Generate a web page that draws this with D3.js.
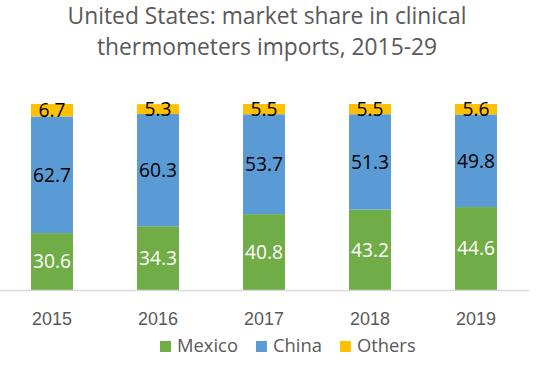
<!DOCTYPE html>
<html>
<head>
<meta charset="utf-8">
<script src="https://cdn.jsdelivr.net/npm/d3@7"></script>
<style>
  html, body { margin: 0; padding: 0; background: #fff; }
  svg { display: block; font-family: "Open Sans", "Noto Sans", sans-serif; }
</style>
</head>
<body>
<svg id="chart" width="547" height="376"></svg>
<script>
const titleLines = ["United States: market share in clinical", "thermometers imports, 2015-29"];
const years = ["2015", "2016", "2017", "2018", "2019"];
const seriesNames = ["Mexico", "China", "Others"];
const mexico = [30.6, 34.3, 40.8, 43.2, 44.6];
const china = [62.7, 60.3, 53.7, 51.3, 49.8];
const others = [6.7, 5.3, 5.5, 5.5, 5.6];
const colors = ["#70AD47", "#5B9BD5", "#FFC000"];
const labelColors = ["#ffffff", "#000000", "#000000"];

const svg = d3.select("#chart");
const W = 547, H = 376;

// helper: fit font-size so text width equals target
function fitSize(text, target, base) {
  const t = svg.append("text").attr("font-size", base).text(text);
  const w = t.node().getComputedTextLength();
  t.remove();
  return base * target / w;
}

const rows = years.map((y, i) => ({ year: y, Mexico: mexico[i], China: china[i], Others: others[i] }));
const stack = d3.stack().keys(seriesNames)(rows);

const x = d3.scaleBand().domain(years).range([-1, 529]).paddingInner(0.604).paddingOuter(0.302);
const y = d3.scaleLinear().domain([0, 100]).range([290, 104]);

// title
const titleSize = fitSize(titleLines[0], 399, 20);
svg.append("g").selectAll("text").data(titleLines).join("text")
  .attr("x", 267).attr("y", (d, i) => 24 + i * 31)
  .attr("text-anchor", "middle")
  .attr("font-size", titleSize)
  .attr("fill", "#595959")
  .text(d => d);

// bars
const groups = svg.append("g").selectAll("g").data(stack).join("g")
  .attr("fill", (d, i) => colors[i]);
groups.selectAll("rect").data(d => d).join("rect")
  .attr("x", d => x(d.data.year))
  .attr("width", x.bandwidth())
  .attr("y", d => y(d[1]))
  .attr("height", d => y(d[0]) - y(d[1]));

// data labels
const labelSize = fitSize("62.7", 38, 20);
svg.append("g").selectAll("g").data(stack).join("g")
  .attr("fill", (d, i) => labelColors[i])
  .selectAll("text").data(d => d.map(v => ({ v, key: d.key }))).join("text")
  .attr("x", d => x(d.v.data.year) + x.bandwidth() / 2)
  .attr("y", d => (y(d.v[0]) + y(d.v[1])) / 2)
  .attr("dy", "0.36em")
  .attr("text-anchor", "middle")
  .attr("font-size", labelSize)
  .text(d => d.v.data[d.key].toFixed(1));

// x axis
const yearSize = fitSize("2015", 41, 20);
const ax = svg.append("g").attr("transform", "translate(0,290)")
  .call(d3.axisBottom(x).tickSize(0).tickSizeOuter(0));
ax.select(".domain").attr("stroke", "#D9D9D9").attr("stroke-width", 1.5);
ax.selectAll("text").attr("y", 35).attr("dy", 0)
  .attr("font-size", yearSize).attr("font-family", null).attr("fill", "#595959");

// legend
const legSize = fitSize("Mexico", 61, 20);
const leg = svg.append("g");
let lx = 160;
seriesNames.forEach((name, i) => {
  leg.append("rect").attr("x", lx).attr("y", 341).attr("width", 11).attr("height", 11).attr("fill", colors[i]);
  const t = leg.append("text").attr("x", lx + 17).attr("y", 352)
    .attr("font-size", legSize).attr("fill", "#595959").text(name);
  lx += 17 + t.node().getComputedTextLength() + 18;
});
</script>
</body>
</html>
